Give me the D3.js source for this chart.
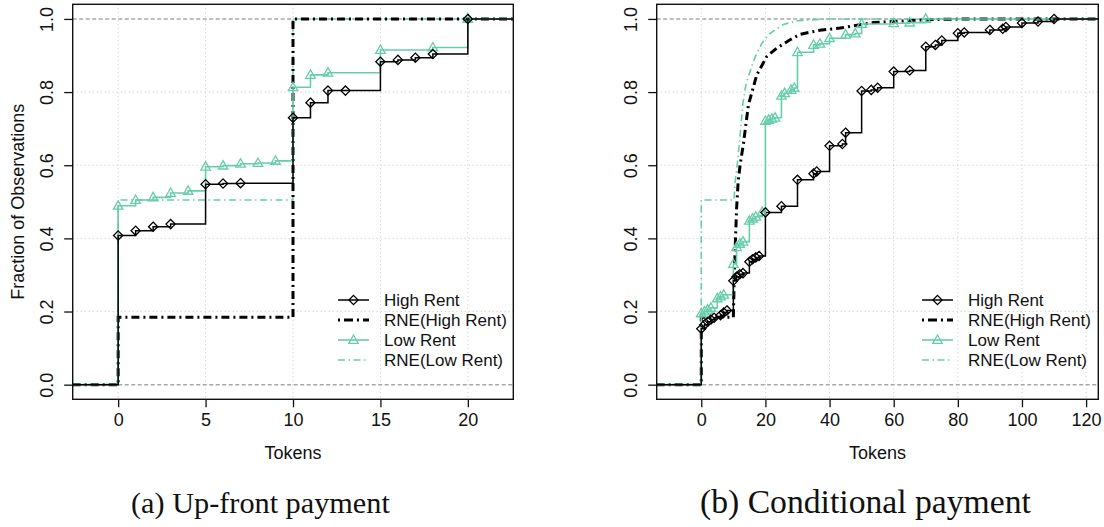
<!DOCTYPE html>
<html>
<head>
<meta charset="utf-8">
<script src="https://cdn.jsdelivr.net/npm/d3@7"></script>
<style>
  html, body { margin: 0; padding: 0; background: #fff; }
  svg { display: block; }
</style>
</head>
<body>
<svg id="chart" width="1104" height="527"></svg>
<script>
// ---------------- DATA ----------------
const yTicks = [0, 0.2, 0.4, 0.6, 0.8, 1.0];
const yTickLabels = ["0.0", "0.2", "0.4", "0.6", "0.8", "1.0"];
const xTicksA = [0, 5, 10, 15, 20];
const xTicksB = [0, 20, 40, 60, 80, 100, 120];
const legendLabels = ["High Rent", "RNE(High Rent)", "Low Rent", "RNE(Low Rent)"];
const captions = ["(a) Up-front payment", "(b) Conditional payment"];
const xTitle = "Tokens";
const yTitle = "Fraction of Observations";

// (a) Up-front payment : empirical CDF knots [tokens, fraction]
const highRentA = [[0,0.408],[1,0.421],[2,0.432],[3,0.439],[5,0.548],[6,0.550],[7,0.551],
  [10,0.730],[11,0.771],[12,0.804],[13,0.804],[15,0.883],[16,0.888],[17,0.894],[18,0.904],[20,1.0]];
const lowRentA = [[0,0.489],[1,0.505],[2,0.512],[3,0.524],[4,0.530],[5,0.596],[6,0.599],[7,0.604],
  [8,0.606],[9,0.612],[10,0.813],[11,0.847],[12,0.853],[15,0.915],[18,0.922],[20,1.0]];
const rneHighA = [[0,0],[0,0.184],[10,0.184],[10,1.0]];
const rneLowA = [[0,0],[0,0.505],[10,0.505],[10,1.0]];

// (b) Conditional payment
const highRentB = [[0,0.153],[1,0.164],[2,0.172],[3,0.178],[4,0.183],[6,0.190],[7,0.197],[8,0.203],
  [10,0.284],[11,0.295],[12,0.302],[13,0.305],[15,0.336],[16,0.343],[17,0.348],[18,0.352],
  [20,0.471],[25,0.488],[30,0.560],[35,0.577],[36,0.583],[40,0.653],[44,0.658],[45,0.689],
  [50,0.803],[53,0.806],[55,0.812],[60,0.856],[65,0.859],[70,0.924],[73,0.929],[75,0.941],
  [80,0.961],[82,0.963],[90,0.970],[94,0.973],[95,0.978],[100,0.989],[105,0.993],[110,1.0]];
const lowRentB = [[0,0.195],[1,0.200],[2,0.205],[3,0.210],[5,0.236],[6,0.241],[7,0.246],
  [10,0.330],[11,0.376],[12,0.385],[13,0.391],[15,0.448],[16,0.454],[17,0.459],[19,0.472],
  [20,0.721],[21,0.724],[22,0.727],[23,0.730],[25,0.790],[26,0.797],[28,0.806],[29,0.811],
  [30,0.909],[35,0.929],[37,0.932],[40,0.947],[45,0.957],[48,0.960],[50,0.986],[60,0.988],
  [65,0.990],[70,1.0]];
const rneHighB = [[0,0],[0,0.184],[10,0.184],[10.3,0.30],[10.6,0.38],[11.0,0.48],[11.5,0.555],
  [12.1,0.60],[13.1,0.656],[14.7,0.765],[17.3,0.847],[20.4,0.897],[23.5,0.920],[27.7,0.943],
  [30.8,0.958],[37,0.969],[43.3,0.975],[49.5,0.984],[53.7,0.990],[64,0.995],[74.5,0.999],[85,1.0]];
const rneLowB = [[0,0],[0,0.505],[10.2,0.505],[10.5,0.55],[11.2,0.60],[12.1,0.68],[13.0,0.77],
  [13.9,0.82],[15.7,0.87],[17,0.90],[19,0.935],[21.4,0.96],[25.6,0.985],[30,0.995],[39,1.0]];

// ---------------- STYLE / LAYOUT ----------------
const SANS = "'Liberation Sans', Arial, Helvetica, sans-serif";
const SERIF = "'Liberation Serif', 'Times New Roman', serif";
const TEAL = "#66CDAA";
const BLACK = "#000";

const svg = d3.select("#chart");

const panels = [
  { xDomain: [-2.6, 22.6], xRange: [72.7, 513.3], xTicks: xTicksA, high: highRentA, low: lowRentA,
    rneHigh: rneHighA, rneLow: rneLowA, yTitle: true, legendX: 338, caption: captions[0], capX: 131, capW: 259 },
  { xDomain: [-13.9, 123.8], xRange: [656.7, 1098.3], xTicks: xTicksB, high: highRentB, low: lowRentB,
    rneHigh: rneHighB, rneLow: rneLowB, yTitle: false, legendX: 922, caption: captions[1], capX: 700, capW: 331 }
];

const yDomain = [-0.04, 1.04];
const yRange = [399.3, 4.3];

function diamond(g, cx, cy, color) {
  const r = 4.6;
  g.append("path")
    .attr("d", `M${cx},${cy - r}L${cx + r},${cy}L${cx},${cy + r}L${cx - r},${cy}Z`)
    .attr("fill", "none").attr("stroke", color).attr("stroke-width", 1.3);
}
function triangle(g, cx, cy, color) {
  const s = 5;
  g.append("path")
    .attr("d", `M${cx},${cy - s}L${cx + s * 0.95},${cy + s * 0.68}L${cx - s * 0.95},${cy + s * 0.68}Z`)
    .attr("fill", "none").attr("stroke", color).attr("stroke-width", 1.3);
}

panels.forEach(p => {
  const x = d3.scaleLinear().domain(p.xDomain).range(p.xRange);
  const y = d3.scaleLinear().domain(yDomain).range(yRange);
  const g = svg.append("g");
  const [x0, x1] = p.xRange;

  // grid
  g.selectAll(".vg").data(p.xTicks).join("line")
    .attr("x1", d => x(d)).attr("x2", d => x(d)).attr("y1", yRange[1]).attr("y2", yRange[0])
    .attr("stroke", "#c4c4c4").attr("stroke-width", 1).attr("stroke-dasharray", "1,3");
  g.selectAll(".hg").data(yTicks.filter(d => d > 0 && d < 1)).join("line")
    .attr("x1", x0).attr("x2", x1).attr("y1", d => y(d)).attr("y2", d => y(d))
    .attr("stroke", "#c4c4c4").attr("stroke-width", 1).attr("stroke-dasharray", "1,3");
  // reference lines at 0 and 1
  g.selectAll(".ref").data([0, 1]).join("line")
    .attr("x1", x0).attr("x2", x1).attr("y1", d => y(d)).attr("y2", d => y(d))
    .attr("stroke", "#a8a8a8").attr("stroke-width", 1.5).attr("stroke-dasharray", "4,2.5");

  const stepLine = d3.line().x(d => x(d[0])).y(d => y(d[1])).curve(d3.curveStepAfter);
  const polyLine = d3.line().x(d => x(d[0])).y(d => y(d[1]));

  const dMin = p.xDomain[0], dMax = p.xDomain[1];
  const ext = pts => [[dMin, 0], ...pts, [dMax, pts[pts.length - 1][1]]];

  // RNE lines
  g.append("path").attr("d", polyLine(ext(p.rneLow)))
    .attr("fill", "none").attr("stroke", TEAL).attr("stroke-width", 1.6)
    .attr("stroke-dasharray", "7,3.5,1.5,3.5");
  g.append("path").attr("d", polyLine(ext(p.rneHigh)))
    .attr("fill", "none").attr("stroke", BLACK).attr("stroke-width", 3)
    .attr("stroke-dasharray", "8,4,2,4");

  // Empirical steps
  g.append("path").attr("d", stepLine(ext(p.low)))
    .attr("fill", "none").attr("stroke", TEAL).attr("stroke-width", 1.6);
  g.append("path").attr("d", stepLine(ext(p.high)))
    .attr("fill", "none").attr("stroke", BLACK).attr("stroke-width", 1.5);

  const mk = g.append("g");
  p.low.forEach(d => triangle(mk, x(d[0]), y(d[1]), TEAL));
  p.high.forEach(d => diamond(mk, x(d[0]), y(d[1]), BLACK));

  // box
  g.append("rect").attr("x", x0).attr("y", yRange[1]).attr("width", x1 - x0).attr("height", yRange[0] - yRange[1])
    .attr("fill", "none").attr("stroke", "#111").attr("stroke-width", 1.4);

  // x axis
  const xa = g.append("g").attr("transform", `translate(0,${yRange[0]})`)
    .call(d3.axisBottom(x).tickValues(p.xTicks).tickSize(8).tickSizeOuter(0).tickPadding(6));
  xa.select(".domain").remove();
  xa.selectAll(".tick line").attr("stroke", "#111").attr("stroke-width", 1.3);
  xa.selectAll(".tick text").attr("font-family", SANS).attr("font-size", 18).attr("fill", "#111");

  // y axis
  const ya = g.append("g").attr("transform", `translate(${x0},0)`)
    .call(d3.axisLeft(y).tickValues(yTicks).tickSize(8.5).tickSizeOuter(0).tickFormat((d, i) => yTickLabels[i]));
  ya.select(".domain").remove();
  ya.selectAll(".tick line").attr("stroke", "#111").attr("stroke-width", 1.3);
  ya.selectAll(".tick text")
    .attr("font-family", SANS).attr("font-size", 18).attr("fill", "#111")
    .attr("text-anchor", "middle").attr("x", null).attr("dy", null)
    .attr("transform", "translate(-25.7,0) rotate(-90)").attr("dy", "0.36em");

  // axis titles
  g.append("text").attr("x", (x0 + x1) / 2).attr("y", 459)
    .attr("text-anchor", "middle").attr("font-family", SANS).attr("font-size", 18).attr("fill", "#111")
    .text(xTitle);
  if (p.yTitle) {
    g.append("text").attr("transform", `translate(18,${(yRange[0] + yRange[1]) / 2}) rotate(-90)`)
      .attr("text-anchor", "middle").attr("dy", "0.36em")
      .attr("font-family", SANS).attr("font-size", 18).attr("fill", "#111")
      .text(yTitle);
  }

  // legend
  const lg = g.append("g");
  const rowsY = [300, 320, 340, 360];
  const lx0 = p.legendX, lx1 = p.legendX + 31, lxc = p.legendX + 15.5;
  const styles = [
    { c: BLACK, w: 1.5, dash: null, m: "d" },
    { c: BLACK, w: 3, dash: "2,4,9,4", m: null },
    { c: TEAL, w: 1.6, dash: null, m: "t" },
    { c: TEAL, w: 1.6, dash: "7,3.5,1.5,3.5", m: null }
  ];
  legendLabels.forEach((lab, i) => {
    const s = styles[i];
    lg.append("line").attr("x1", lx0).attr("x2", lx1).attr("y1", rowsY[i]).attr("y2", rowsY[i])
      .attr("stroke", s.c).attr("stroke-width", s.w).attr("stroke-dasharray", s.dash);
    if (s.m === "d") diamond(lg, lxc, rowsY[i], s.c);
    if (s.m === "t") triangle(lg, lxc, rowsY[i], s.c);
    lg.append("text").attr("x", lx0 + 46).attr("y", rowsY[i]).attr("dy", "0.36em")
      .attr("font-family", SANS).attr("font-size", 17).attr("fill", "#111").text(lab);
  });

  // caption (sized to the reference width)
  const cap = svg.append("text").attr("x", p.capX).attr("y", 513)
    .attr("font-family", SERIF).attr("font-size", 24).attr("fill", "#111").text(p.caption);
  const w = cap.node().getComputedTextLength();
  cap.attr("font-size", 24 * p.capW / w);
});
</script>
</body>
</html>
